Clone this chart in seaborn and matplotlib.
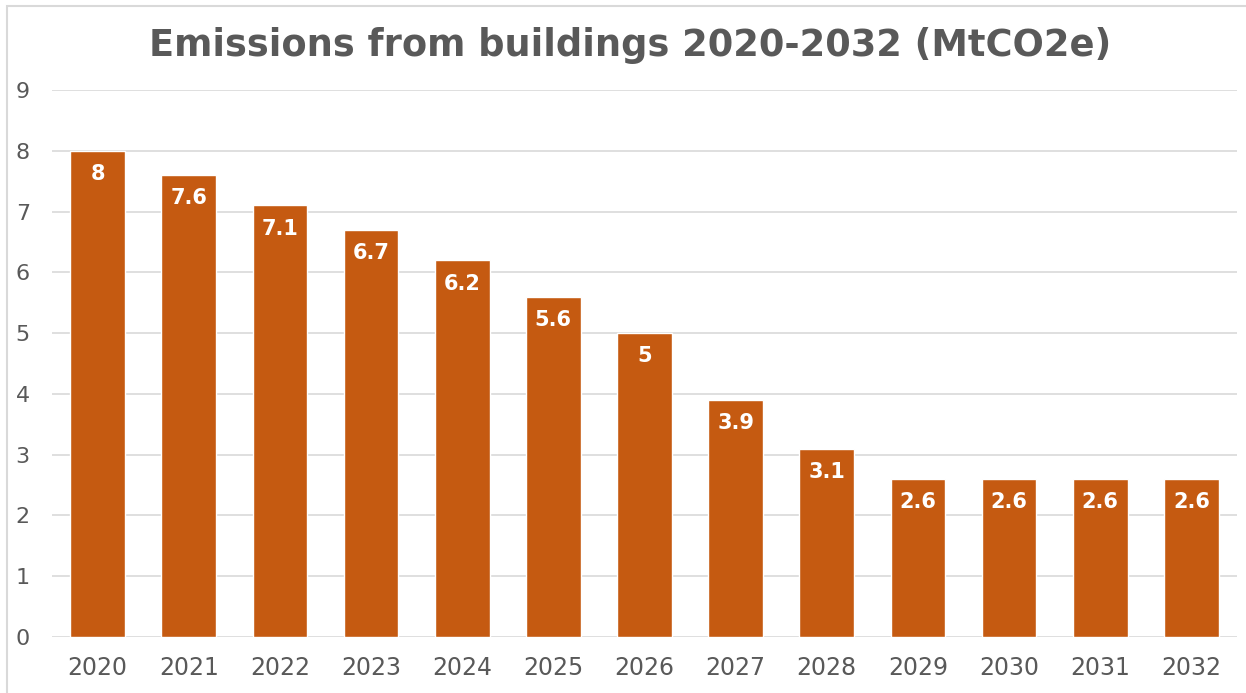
import matplotlib
matplotlib.use("Agg")
import matplotlib.pyplot as plt
import matplotlib.patches as mpatches
import seaborn as sns
import pandas as pd

years = ["2020", "2021", "2022", "2023", "2024", "2025", "2026",
         "2027", "2028", "2029", "2030", "2031", "2032"]
emissions = [8, 7.6, 7.1, 6.7, 6.2, 5.6, 5, 3.9, 3.1, 2.6, 2.6, 2.6, 2.6]
y_ticks = [0, 1, 2, 3, 4, 5, 6, 7, 8, 9]
title = "Emissions from buildings 2020-2032 (MtCO2e)"

bar_color = "#C55A11"
text_color = "#595959"
grid_color = "#D9D9D9"

sns.set_theme(style="white")
plt.rcParams["font.family"] = ["DejaVu Sans"]

df = pd.DataFrame({"year": years, "value": emissions})

fig = plt.figure(figsize=(12.46, 6.93), dpi=100)
ax = fig.add_axes([52 / 1246, 1 - 637 / 693, (1237 - 52) / 1246, (637 - 90) / 693])

sns.barplot(data=df, x="year", y="value", color=bar_color, saturation=1,
            width=0.6, ax=ax, zorder=3)

ax.set_ylim(0, 9)
ax.set_yticks(y_ticks)
ax.set_xlim(-0.5, len(years) - 0.5)
ax.yaxis.grid(True, color=grid_color, linewidth=1.2, zorder=0)
ax.set_axisbelow(True)
for s in ax.spines.values():
    s.set_visible(False)
ax.set_xlabel("")
ax.set_ylabel("")
ax.tick_params(axis="y", length=0, pad=16, labelsize=16, labelcolor=text_color)
ax.tick_params(axis="x", length=0, pad=14, labelsize=17, labelcolor=text_color)

for container in ax.containers:
    labels = [f"{v:g}" for v in container.datavalues]
    ax.bar_label(container, labels=labels, padding=-24, color="white",
                 fontsize=15, fontweight="bold")

fig.text(630 / 1246, 1 - 45 / 693, title, ha="center", va="center",
         fontsize=26.5, fontweight="bold", color=text_color)

# thin frame around the chart area
fig.patches.append(mpatches.Rectangle((7 / 1246, -0.1), 1.2, 1 - 6 / 693 + 0.1,
                                      transform=fig.transFigure, fill=False,
                                      edgecolor="#D9D9D9", linewidth=1.5))

fig.savefig("out.png", dpi=100, facecolor="white")
